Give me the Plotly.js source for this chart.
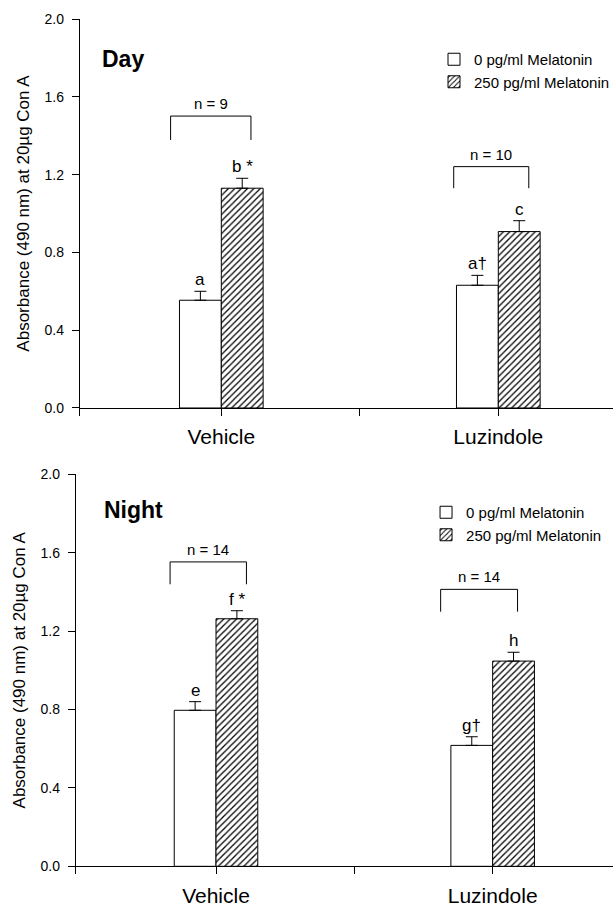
<!DOCTYPE html>
<html>
<head>
<meta charset="utf-8">
<script src="https://cdn.plot.ly/plotly-3.0.1.min.js"></script>
<style>
  html, body { margin: 0; padding: 0; background: #fff; }
  #chart { width: 615px; height: 906px; }
</style>
</head>
<body>
<div id="chart"></div>
<script>
// ---------------- data ----------------
const categories = ["Vehicle", "Luzindole"];
const seriesNames = ["0 pg/ml Melatonin", "250 pg/ml Melatonin"];

// Day panel
const dayMel0 = [0.554, 0.631];
const dayMel0Err = [0.046, 0.051];
const dayMel250 = [1.130, 0.907];
const dayMel250Err = [0.051, 0.056];
const dayLetters0 = ["a", "a†"];
const dayLetters250 = ["b *", "c"];
const dayN = ["n = 9", "n = 10"];

// Night panel
const nightMel0 = [0.796, 0.617];
const nightMel0Err = [0.044, 0.044];
const nightMel250 = [1.263, 1.047];
const nightMel250Err = [0.041, 0.045];
const nightLetters0 = ["e", "g†"];
const nightLetters250 = ["f *", "h"];
const nightN = ["n = 14", "n = 14"];

// bracket geometry (data units: offset from category centre, and y levels)
const dayBracketLeft = [-0.183, -0.161];
const dayBracketRight = [0.107, 0.110];
const dayBracketTop = [1.501, 1.241];
const dayBracketFoot = [1.378, 1.130];
const nightBracketLeft = [-0.166, -0.188];
const nightBracketRight = [0.110, 0.090];
const nightBracketTop = [1.553, 1.413];
const nightBracketFoot = [1.439, 1.299];

const yTicks = [0, 0.4, 0.8, 1.2, 1.6, 2.0];
const xTickVals = [0, 0.5, 1, 1.5];
const xTickText = ["Vehicle", "", "Luzindole", ""];
const yTitle = "Absorbance (490 nm) at 20µg Con A";

// ---------------- build ----------------
const FONT = "Liberation Sans, Arial, Helvetica, sans-serif";
const xpos = categories.map((_, i) => i);
const BARW = 0.151;

function barTrace(vals, errs, name, hatched, xa, ya, legend) {
  return {
    type: "bar",
    x: xpos,
    y: vals,
    name: name,
    xaxis: xa, yaxis: ya,
    legend: legend,
    showlegend: true,
    offsetgroup: hatched ? "b" : "a",
    marker: {
      color: "white",
      line: { color: "black", width: 1 },
      pattern: hatched ? { shape: "/", fgcolor: "black", bgcolor: "white", size: 4.5, solidity: 0.28 } : { shape: "" }
    },
    error_y: {
      type: "data", symmetric: false,
      array: errs, arrayminus: errs.map(() => 0),
      color: "black", thickness: 1, width: 6
    },
    hoverinfo: "skip"
  };
}

const traces = [
  barTrace(dayMel0, dayMel0Err, seriesNames[0], false, "x", "y", "legend"),
  barTrace(dayMel250, dayMel250Err, seriesNames[1], true, "x", "y", "legend"),
  barTrace(nightMel0, nightMel0Err, seriesNames[0], false, "x2", "y2", "legend2"),
  barTrace(nightMel250, nightMel250Err, seriesNames[1], true, "x2", "y2", "legend2")
];

const shapes = [];
const annotations = [];

function addPanel(xr, yr, mel0, err0, mel250, err250, let0, let250, nLab, bl, br, bt, bf) {
  categories.forEach((c, i) => {
    annotations.push({ xref: xr, yref: yr, x: i - BARW / 2, y: mel0[i] + err0[i], text: let0[i],
      showarrow: false, yanchor: "bottom", yshift: 0, font: { family: FONT, size: 17, color: "black" } });
    annotations.push({ xref: xr, yref: yr, x: i + BARW / 2, y: mel250[i] + err250[i], text: let250[i],
      showarrow: false, yanchor: "bottom", yshift: 0, font: { family: FONT, size: 17, color: "black" } });
    const x0 = i + bl[i], x1 = i + br[i];
    shapes.push({ type: "path", xref: xr, yref: yr,
      path: `M ${x0} ${bf[i]} L ${x0} ${bt[i]} L ${x1} ${bt[i]} L ${x1} ${bf[i]}`,
      line: { color: "black", width: 1 } });
    annotations.push({ xref: xr, yref: yr, x: (x0 + x1) / 2, y: bt[i], text: nLab[i],
      showarrow: false, yanchor: "bottom", yshift: 2, font: { family: FONT, size: 15, color: "black" } });
  });
}
addPanel("x", "y", dayMel0, dayMel0Err, dayMel250, dayMel250Err, dayLetters0, dayLetters250, dayN,
  dayBracketLeft, dayBracketRight, dayBracketTop, dayBracketFoot);
addPanel("x2", "y2", nightMel0, nightMel0Err, nightMel250, nightMel250Err, nightLetters0, nightLetters250, nightN,
  nightBracketLeft, nightBracketRight, nightBracketTop, nightBracketFoot);

annotations.push({ xref: "paper", yref: "paper", x: 0.163, y: 0.9349, xanchor: "left", yanchor: "middle",
  text: "<b>Day</b>", showarrow: false, font: { family: FONT, size: 23, color: "black" } });
annotations.push({ xref: "paper", yref: "paper", x: 0.167, y: 0.437, xanchor: "left", yanchor: "middle",
  text: "<b>Night</b>", showarrow: false, font: { family: FONT, size: 23, color: "black" } });

function xAxis(domain, range, anchor) {
  return {
    domain: domain, range: range, anchor: anchor,
    tickmode: "array", tickvals: [range[0]].concat(xTickVals), ticktext: [""].concat(xTickText),
    ticks: "outside", ticklen: 7, tickwidth: 1, tickcolor: "black",
    showline: true, linecolor: "black", linewidth: 1,
    showgrid: false, zeroline: false, fixedrange: true,
    tickfont: { family: FONT, size: 21, color: "black" },
    ticklabelstandoff: 3
  };
}
function yAxis(domain, anchor) {
  return {
    domain: domain, range: [0, 2], anchor: anchor,
    tickmode: "array", tickvals: yTicks, tickformat: ".1f",
    ticks: "outside", ticklen: 7, tickwidth: 1, tickcolor: "black",
    showline: true, linecolor: "black", linewidth: 1,
    showgrid: false, zeroline: false, fixedrange: true,
    tickfont: { family: FONT, size: 14, color: "black" },
    ticklabelstandoff: 5,
    title: { text: yTitle, font: { family: FONT, size: 17, color: "black" }, standoff: 10 }
  };
}

const layout = {
  width: 615, height: 906,
  margin: { l: 0, r: 0, t: 0, b: 0 },
  paper_bgcolor: "white", plot_bgcolor: "white",
  font: { family: FONT, color: "black" },
  barmode: "group", bargap: 0.698, bargroupgap: 0,
  xaxis: xAxis([80 / 615, 1], [-0.511, 1.414], "y"),
  yaxis: yAxis([0.5497, 0.9790], "x"),
  xaxis2: xAxis([76 / 615, 1], [-0.507, 1.435], "y2"),
  yaxis2: yAxis([0.0438, 0.4765], "x2"),
  legend: { x: 0.708, y: 1 - 43 / 906, xanchor: "left", yanchor: "top", bgcolor: "rgba(0,0,0,0)",
    font: { family: FONT, size: 15, color: "black" }, tracegroupgap: 0, itemwidth: 30 },
  legend2: { x: 0.695, y: 1 - 496 / 906, xanchor: "left", yanchor: "top", bgcolor: "rgba(0,0,0,0)",
    font: { family: FONT, size: 15, color: "black" }, tracegroupgap: 0, itemwidth: 30 },
  shapes: shapes,
  annotations: annotations
};

Plotly.newPlot("chart", traces, layout, { staticPlot: true, displayModeBar: false });
</script>
</body>
</html>
